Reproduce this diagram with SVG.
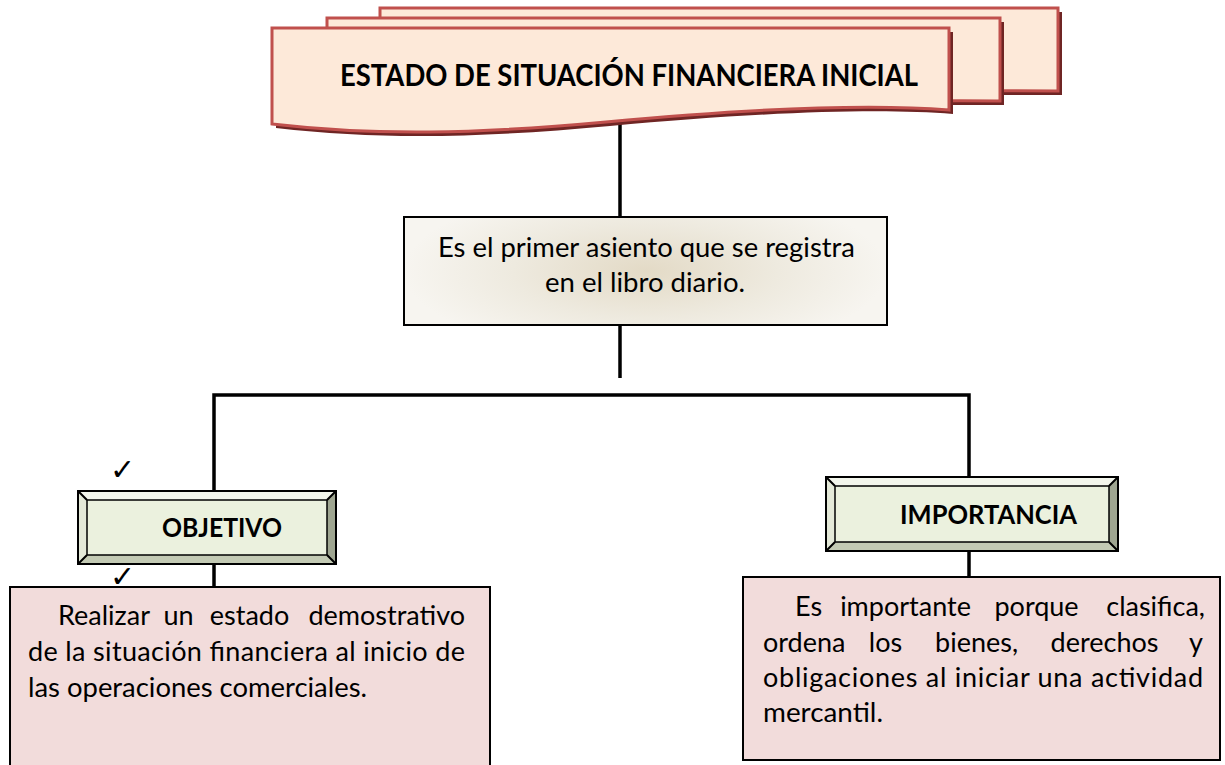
<svg xmlns="http://www.w3.org/2000/svg" width="1225" height="765" viewBox="0 0 1225 765">
<style>
  .t { font-family: "Lato", "Liberation Sans", sans-serif; font-size: 27px; fill: #000; }
  .b { font-family: "Lato", "Liberation Sans", sans-serif; font-weight: bold; fill: #000; }
  .sheet { fill: #fde9d9; stroke: #c0504d; stroke-width: 3; }
  .shadow { fill: #6f2524; }
  .conn { stroke: #000; stroke-width: 3.5; fill: none; stroke-linecap: butt; }
  .bevel-in { fill: #ebf1de; stroke: #000; stroke-width: 1.5; }
  .bevel-t { fill: #f3f6ec; }
  .bevel-l { fill: #e4e9d8; }
  .bevel-b { fill: #c3cab4; }
  .bevel-r { fill: #9fa691; }
  .edge { fill: none; stroke: #000; stroke-width: 2; }
  .pink { fill: #f2dcdb; stroke: #000; stroke-width: 2; }
  .chk { font-family: "DejaVu Sans", sans-serif; font-size: 30px; fill: #000; }
</style>
<defs>
  <radialGradient id="g2" cx="0.5" cy="0.5" r="0.5" gradientTransform="translate(0.5 0.5) scale(1 1.6) translate(-0.5 -0.5)">
    <stop offset="0" stop-color="#e3dac6"/>
    <stop offset="0.55" stop-color="#eeeadf"/>
    <stop offset="1" stop-color="#f7f5f0"/>
  </radialGradient>
</defs>

<g id="connectors">
  <line class="conn" x1="620" y1="124" x2="620" y2="217"/>
  <line class="conn" x1="620" y1="325" x2="620" y2="378"/>
  <polyline class="conn" points="214,491 214,395 969,395 969,477"/>
  <line class="conn" x1="214" y1="564" x2="214" y2="587"/>
  <line class="conn" x1="969" y1="551" x2="969" y2="577"/>
</g>

<g id="title">
  <path class="shadow" d="M384,12 H1062 V95 H384 Z"/>
  <path class="sheet" d="M380,8 H1058 V91 C900,90 800,92 700,94 H380 Z"/>
  <path class="shadow" d="M331,22 H1004 V105 H331 Z"/>
  <path class="sheet" d="M327,18 H1000 V101 C850,100 700,104 600,106 H327 Z"/>
  <path class="shadow" d="M276,32 H953 V114 C880,108 760,112 610,126 C480,138 380,140 276,128 Z"/>
  <path class="sheet" d="M272,28 H949 V110 C876,104 756,108 606,122 C476,134 376,136 272,124 Z"/>
  <text class="b" x="340" y="86" font-size="31" textLength="578" lengthAdjust="spacingAndGlyphs">ESTADO DE SITUACIÓN FINANCIERA INICIAL</text>
</g>

<g id="definicion">
  <rect x="404" y="217" width="483" height="108" fill="url(#g2)" stroke="#000" stroke-width="2"/>
  <text class="t" x="438" y="257" textLength="417" lengthAdjust="spacingAndGlyphs">Es el primer asiento que se registra</text>
  <text class="t" x="545" y="292" textLength="200" lengthAdjust="spacingAndGlyphs">en el libro diario.</text>
</g>

<g id="objetivo">
  <polygon class="bevel-t" points="78,491 336,491 327,500 87,500"/>
  <polygon class="bevel-l" points="78,491 87,500 87,555 78,564"/>
  <polygon class="bevel-b" points="78,564 87,555 327,555 336,564"/>
  <polygon class="bevel-r" points="336,491 336,564 327,555 327,500"/>
  <rect class="bevel-in" x="87" y="500" width="240" height="55"/>
  <rect class="edge" x="78" y="491" width="258" height="73"/>
  <path class="edge" d="M78,491 L87,500 M336,491 L327,500 M78,564 L87,555 M336,564 L327,555" stroke-width="1"/>
  <text class="b" x="162" y="537" font-size="27" textLength="120" lengthAdjust="spacingAndGlyphs">OBJETIVO</text>
</g>

<g id="check1"><text class="chk" x="110" y="480">✓</text></g>
<g id="check2"><text class="chk" x="110" y="587">✓</text></g>

<g id="importancia">
  <polygon class="bevel-t" points="826,477 1118,477 1109,486 835,486"/>
  <polygon class="bevel-l" points="826,477 835,486 835,542 826,551"/>
  <polygon class="bevel-b" points="826,551 835,542 1109,542 1118,551"/>
  <polygon class="bevel-r" points="1118,477 1118,551 1109,542 1109,486"/>
  <rect class="bevel-in" x="835" y="486" width="274" height="56"/>
  <rect class="edge" x="826" y="477" width="292" height="74"/>
  <path class="edge" d="M826,477 L835,486 M1118,477 L1109,486 M826,551 L835,542 M1118,551 L1109,542" stroke-width="1"/>
  <text class="b" x="900" y="524" font-size="27" textLength="177" lengthAdjust="spacingAndGlyphs">IMPORTANCIA</text>
</g>

<g id="objetivo-texto">
  <rect class="pink" x="10" y="587" width="480" height="190"/>
  <text class="t" y="625">
    <tspan x="58">Realizar</tspan>
    <tspan x="182" text-anchor="middle">un</tspan>
    <tspan x="253" text-anchor="middle">estado</tspan>
    <tspan x="465" text-anchor="end">demostrativo</tspan>
  </text>
  <text class="t" x="28" y="661" textLength="437" lengthAdjust="spacing">de la situación financiera al inicio de</text>
  <text class="t" x="28" y="697" textLength="339" lengthAdjust="spacingAndGlyphs">las operaciones comerciales.</text>
</g>

<g id="importancia-texto">
  <rect class="pink" x="743" y="577" width="477" height="183"/>
  <text class="t" y="616">
    <tspan x="795">Es</tspan>
    <tspan x="909" text-anchor="middle">importante</tspan>
    <tspan x="1040" text-anchor="middle">porque</tspan>
    <tspan x="1205" text-anchor="end">clasifica,</tspan>
  </text>
  <text class="t" y="652">
    <tspan x="763">ordena</tspan>
    <tspan x="889" text-anchor="middle">los</tspan>
    <tspan x="980" text-anchor="middle">bienes,</tspan>
    <tspan x="1108" text-anchor="middle">derechos</tspan>
    <tspan x="1203" text-anchor="end">y</tspan>
  </text>
  <text class="t" x="763" y="687" textLength="440" lengthAdjust="spacing">obligaciones al iniciar una actividad</text>
  <text class="t" x="763" y="722" textLength="120" lengthAdjust="spacingAndGlyphs">mercantil.</text>
</g>
</svg>
